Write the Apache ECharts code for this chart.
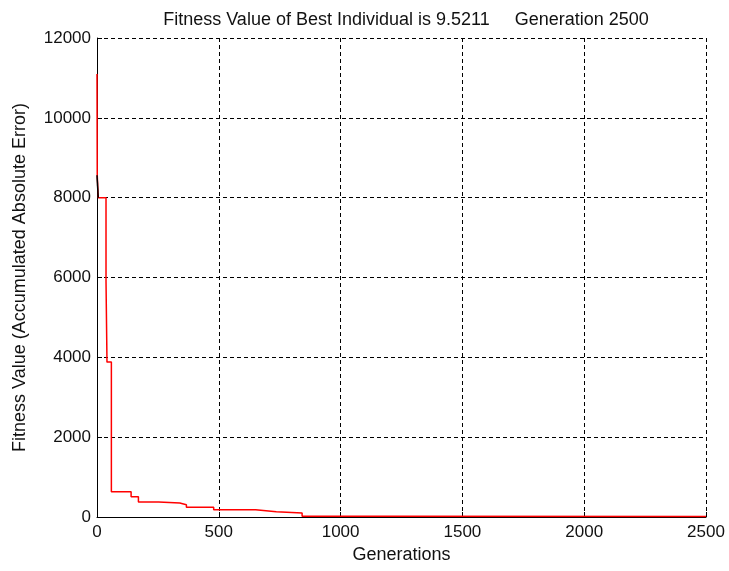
<!DOCTYPE html>
<html><head><meta charset="utf-8">
<script src="https://cdn.jsdelivr.net/npm/echarts@6/dist/echarts.min.js"></script>
<style>html,body{margin:0;padding:0;background:#fff}#c{width:729px;height:571px}</style>
</head><body><div id="c"></div>
<script>
const titleText = 'Fitness Value of Best Individual is 9.5211     Generation 2500';
const xTicks = [0, 500, 1000, 1500, 2000, 2500];
const yTicks = [0, 2000, 4000, 6000, 8000, 10000, 12000];
// best fitness (step changes): generation, value
const bestGen =   [0,     1,    5,    37,   41,   59,  140, 170, 253, 340, 367, 479, 651, 736, 842, 1200, 2500];
const bestVal =   [11100, 8560, 8000, 5910, 3880, 634, 509, 376, 350, 308, 242, 183, 133, 100, 20,  12,   9.52];
const blackGen = [0, 5, 5];
const blackVal = [8560, 8560, 8000];

const font = 'Liberation Sans, Arial, sans-serif';
const txt = '#111';
const chart = echarts.init(document.getElementById('c'));
chart.setOption({
  animation: false,
  title: { text: titleText, left: 401, textAlign: 'center', top: 6,
    textStyle: { fontFamily: font, fontSize: 18, fontWeight: 'normal', color: txt } },
  grid: { left: 97, right: 23, top: 38, bottom: 54, show: false },
  xAxis: { type: 'value', min: xTicks[0], max: xTicks[xTicks.length - 1], interval: 500,
    name: 'Generations', nameLocation: 'middle', nameGap: 28,
    nameTextStyle: { fontFamily: font, fontSize: 18, color: txt },
    axisLine: { show: true, onZero: false, lineStyle: { color: '#000', width: 1 } },
    axisTick: { show: true, inside: true, length: 5, lineStyle: { color: '#000' } },
    axisLabel: { fontFamily: font, fontSize: 17, color: txt, margin: 7, formatter: v => String(v) },
    splitLine: { show: true, lineStyle: { color: '#000', type: [4, 3], width: 1 } } },
  yAxis: { type: 'value', min: yTicks[0], max: yTicks[yTicks.length - 1], interval: 2000,
    name: 'Fitness Value (Accumulated Absolute Error)', nameLocation: 'middle', nameGap: 68,
    nameTextStyle: { fontFamily: font, fontSize: 18, color: txt },
    axisLine: { show: true, onZero: false, lineStyle: { color: '#000', width: 1 } },
    axisTick: { show: true, inside: true, length: 5, lineStyle: { color: '#000' } },
    axisLabel: { fontFamily: font, fontSize: 17, color: txt, margin: 6, formatter: v => String(v) },
    splitLine: { show: true, lineStyle: { color: '#000', type: [4, 3], width: 1 } } },
  series: [
    { type: 'line', step: 'end', showSymbol: false, symbol: 'none',
      data: bestGen.map((g, i) => [g, bestVal[i]]),
      lineStyle: { color: '#ff0000', width: 1.5 } },
    { type: 'line', showSymbol: false, symbol: 'none',
      data: blackGen.map((g, i) => [g, blackVal[i]]),
      lineStyle: { color: '#000', width: 1.5 } }
  ]
});
</script></body></html>
